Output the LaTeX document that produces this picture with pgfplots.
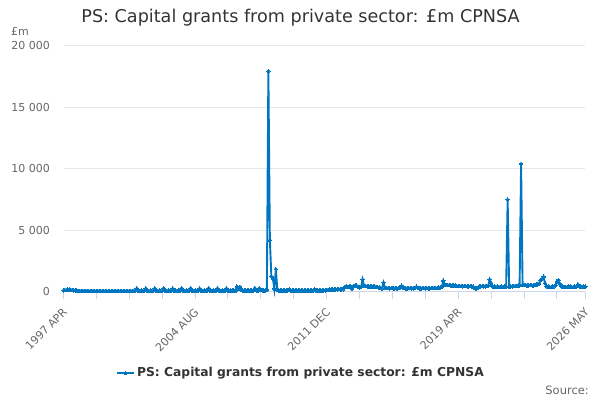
\documentclass[border=0pt]{standalone}
\usepackage{fontspec}
\setmainfont{DejaVu Sans}
\usepackage{pgfplots}
\pgfplotsset{compat=1.18}
\definecolor{serie}{HTML}{0076C0}
\definecolor{gridc}{HTML}{E6E6E6}
\definecolor{axisc}{HTML}{CCD6EB}
\definecolor{tickc}{HTML}{666666}
\definecolor{ttl}{HTML}{333333}
\begin{document}
\begin{tikzpicture}
\path[use as bounding box] (0,0) rectangle (600bp,400bp);
\begin{axis}[
  at={(63.5bp,108.2bp)}, anchor=south west,
  scale only axis, width=521.9bp, height=246bp,
  xmin=0, xmax=349, ymin=0, ymax=20000,
  clip=false,
  scaled y ticks=false,
  axis lines=left,
  axis line style={-, draw=axisc, line width=1bp},
  y axis line style={draw=none},
  xtick={0,88,176,264,349},
  xticklabels={1997 APR,2004 AUG,2011 DEC,2019 APR,2026 MAY},
  minor xtick={22,44,66,110,132,154,198,220,242,286,308,330},
  tick align=outside,
  major tick length=7bp, minor tick length=7bp,
  tick style={draw=axisc, line width=1bp},
  ytick style={draw=none},
  ytick={0,5000,10000,15000,20000},
  yticklabels={0,5 000,10 000,15 000,20 000},
  ymajorgrids,
  grid style={draw=gridc, line width=1bp},
  ticklabel style={font=\fontsize{11bp}{13bp}\selectfont, text=tickc},
  xticklabel style={xshift=4bp, yshift=-9bp, rotate=45, anchor=east},
  yticklabel style={anchor=east, xshift=-3bp},
  /pgf/number format/assume math mode=true,
  legend style={at={(0.455,-0.33)}, anchor=center, draw=none, fill=none,
    font=\bfseries\fontsize{12.3bp}{14bp}\selectfont, text=ttl},
]
\addplot[serie, line width=1.9bp, mark=*, mark size=1.8bp, mark options={fill=serie, draw=serie, line width=0pt}]
table[x expr=\coordindex, y index=0, row sep=\\]{
y\\
120\\ 140\\ 160\\ 170\\ 180\\ 160\\ 150\\ 130\\ 100\\ 90\\ 80\\ 70\\
60\\ 70\\ 60\\ 80\\ 70\\ 60\\ 50\\ 70\\ 60\\ 50\\ 60\\ 70\\
60\\ 50\\ 60\\ 70\\ 60\\ 50\\ 60\\ 70\\ 60\\ 60\\ 50\\ 60\\
70\\ 60\\ 50\\ 60\\ 70\\ 60\\ 50\\ 60\\ 70\\ 60\\ 80\\ 70\\
90\\ 280\\ 100\\ 80\\ 90\\ 80\\ 90\\ 270\\ 90\\ 80\\ 90\\ 80\\
90\\ 280\\ 90\\ 80\\ 90\\ 70\\ 90\\ 290\\ 90\\ 80\\ 90\\ 80\\
90\\ 270\\ 80\\ 90\\ 80\\ 90\\ 80\\ 280\\ 90\\ 80\\ 90\\ 80\\
90\\ 290\\ 90\\ 80\\ 90\\ 80\\ 90\\ 270\\ 90\\ 80\\ 90\\ 80\\
90\\ 280\\ 90\\ 80\\ 90\\ 80\\ 90\\ 270\\ 90\\ 80\\ 90\\ 80\\
90\\ 280\\ 90\\ 80\\ 90\\ 100\\ 90\\ 80\\ 420\\ 250\\ 400\\ 150\\
100\\ 90\\ 110\\ 100\\ 120\\ 100\\ 90\\ 110\\ 300\\ 110\\ 100\\ 280\\
150\\ 100\\ 110\\ 90\\ 150\\ 17950\\ 4200\\ 1250\\ 1100\\ 250\\ 1850\\ 150\\
120\\ 100\\ 90\\ 110\\ 100\\ 90\\ 120\\ 200\\ 100\\ 90\\ 100\\ 110\\
100\\ 90\\ 110\\ 100\\ 90\\ 100\\ 110\\ 100\\ 90\\ 100\\ 110\\ 100\\
200\\ 110\\ 100\\ 120\\ 110\\ 100\\ 120\\ 130\\ 150\\ 160\\ 170\\ 180\\
200\\ 190\\ 210\\ 200\\ 220\\ 200\\ 190\\ 210\\ 380\\ 420\\ 400\\ 430\\
410\\ 250\\ 480\\ 520\\ 500\\ 380\\ 350\\ 400\\ 1000\\ 480\\ 460\\ 450\\
440\\ 430\\ 450\\ 420\\ 430\\ 400\\ 380\\ 360\\ 300\\ 280\\ 750\\ 300\\
320\\ 300\\ 280\\ 300\\ 310\\ 290\\ 300\\ 280\\ 300\\ 320\\ 500\\ 350\\
300\\ 280\\ 290\\ 300\\ 310\\ 290\\ 280\\ 300\\ 420\\ 300\\ 290\\ 280\\
300\\ 310\\ 290\\ 300\\ 280\\ 290\\ 300\\ 310\\ 320\\ 300\\ 310\\ 330\\
350\\ 400\\ 900\\ 600\\ 560\\ 550\\ 540\\ 520\\ 500\\ 520\\ 500\\ 480\\
470\\ 460\\ 480\\ 450\\ 470\\ 460\\ 450\\ 440\\ 460\\ 450\\ 420\\ 300\\
250\\ 320\\ 430\\ 450\\ 460\\ 440\\ 450\\ 470\\ 480\\ 1000\\ 700\\ 450\\
420\\ 400\\ 410\\ 380\\ 400\\ 420\\ 400\\ 410\\ 430\\ 7500\\ 400\\ 430\\
450\\ 480\\ 460\\ 470\\ 500\\ 520\\ 10400\\ 550\\ 560\\ 540\\ 520\\ 530\\
550\\ 540\\ 520\\ 560\\ 580\\ 600\\ 650\\ 950\\ 1050\\ 1230\\ 700\\ 450\\
420\\ 400\\ 380\\ 420\\ 450\\ 500\\ 850\\ 950\\ 650\\ 450\\ 420\\ 400\\
400\\ 380\\ 420\\ 410\\ 390\\ 400\\ 420\\ 430\\ 600\\ 450\\ 420\\ 400\\
430\\ 420\\
};
\addlegendentry{PS: Capital grants from private sector: £m CPNSA}
\end{axis}
\node[font=\fontsize{17.6bp}{20bp}\selectfont, text=ttl] at (300.5bp,382bp) {PS: Capital grants from private sector: £m CPNSA};
\node[font=\fontsize{11bp}{13bp}\selectfont, text=tickc, anchor=west, inner sep=0pt] at (11bp,369bp) {£m};
\node[font=\fontsize{11.5bp}{13bp}\selectfont, text=tickc, anchor=east, inner sep=0pt] at (589bp,10bp) {Source:};
\end{tikzpicture}
\end{document}
